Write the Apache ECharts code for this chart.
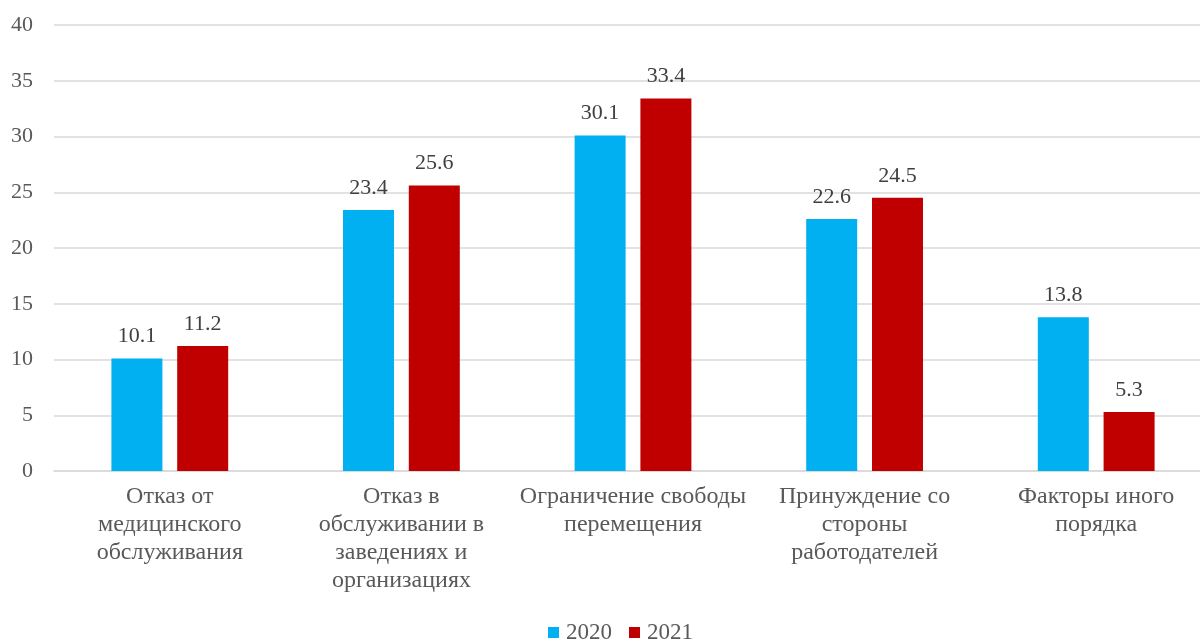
<!DOCTYPE html>
<html><head><meta charset="utf-8">
<script src="https://cdn.jsdelivr.net/npm/echarts@6/dist/echarts.min.js"></script>
<style>html,body{margin:0;padding:0;background:#fff}#c{width:1200px;height:644px}</style>
</head><body><div id="c"></div>
<script>
const categories = ['Отказ от\nмедицинского\nобслуживания','Отказ в\nобслуживании в\nзаведениях и\nорганизациях','Ограничение свободы\nперемещения','Принуждение со\nстороны\nработодателей','Факторы иного\nпорядка'];
const values2020 = [10.1, 23.4, 30.1, 22.6, 13.8];
const values2021 = [11.2, 25.6, 33.4, 24.5, 5.3];
const seriesNames = ['2020','2021'];
const font = '"Liberation Serif", "Times New Roman", serif';
const chart = echarts.init(document.getElementById('c'));
const lbl = {show:true, position:'top', distance:11, color:'#404040', fontFamily:font, fontSize:22};
chart.setOption({
  animation:false,
  textStyle:{fontFamily:font},
  grid:{left:54, width:1158, top:25, height:446, containLabel:false, outerBoundsMode:'none'},
  legend:{top:621, left:548, itemWidth:11, itemHeight:11, itemGap:17, icon:'rect', padding:0,
    textStyle:{fontFamily:font, fontSize:23, color:'#595959', padding:[0,0,0,2]}, data:seriesNames},
  xAxis:{type:'category', data:categories, axisTick:{show:false},
    axisLine:{lineStyle:{color:'#d9d9d9', width:1.5}},
    axisLabel:{interval:0, margin:12, fontFamily:font, fontSize:24, lineHeight:28, color:'#595959'}},
  yAxis:{type:'value', min:0, max:40, interval:5, axisLine:{show:false}, axisTick:{show:false},
    splitLine:{lineStyle:{color:'#d9d9d9', width:1.5}},
    axisLabel:{margin:21, fontFamily:font, fontSize:22, color:'#595959'}},
  series:[
    {name:seriesNames[0], type:'bar', data:values2020, barWidth:51, barGap:'29%', itemStyle:{color:'#00B0F0'}, label:lbl},
    {name:seriesNames[1], type:'bar', data:values2021, barWidth:51, itemStyle:{color:'#C00000'}, label:lbl}
  ]
});
</script></body></html>
